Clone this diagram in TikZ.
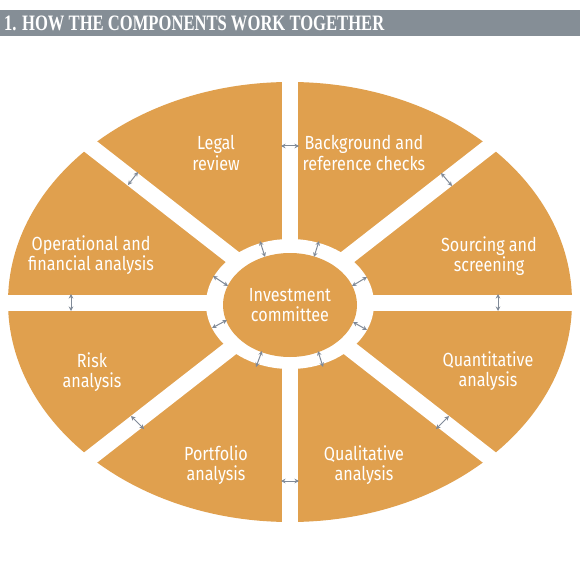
\documentclass[tikz,border=0pt]{standalone}
\usepackage{fontspec}
\setmainfont{Fira Sans}[FakeStretch=0.85]
\newfontfamily\titlefont{Liberation Serif}
\usetikzlibrary{arrows.meta}
\definecolor{segorange}{RGB}{224,160,78}
\definecolor{bargrey}{RGB}{133,142,150}
\definecolor{arrowgrey}{RGB}{128,138,152}
\begin{document}
\begin{tikzpicture}[x=1pt,y=-1pt,
 seglabel/.style={text=white, align=center, inner sep=0pt, font=\fontsize{19}{20.5}\selectfont},
 link/.style={arrowgrey, line width=1pt, {Stealth[length=4.5pt,width=4.5pt]}-{Stealth[length=4.5pt,width=4.5pt]}},
 gapline/.style={white, line width=16pt}]
\fill[white] (0,0) rectangle (580,580);
\useasboundingbox (0,0) rectangle (580,580);
% title bar
\fill[bargrey] (0,10) rectangle (580,36.5);
\node[anchor=base west, inner sep=0pt, text=white] (title) at (4,31)
  {\resizebox{380pt}{\height}{\titlefont\bfseries\fontsize{22}{22}\selectfont 1. HOW THE COMPONENTS WORK TOGETHER}};
% wheel
\fill[segorange] (290,302) ellipse [x radius=282pt, y radius=220pt];
\draw[gapline] (290,60) -- (290,545);
\draw[gapline] (-5,302.5) -- (585,302.5);
\draw[gapline] (-10,68) -- (590,536);
\draw[gapline] (-10,536) -- (590,68);
\fill[white] (290,304) ellipse [x radius=84pt, y radius=65pt];
\fill[segorange] (290,305) ellipse [x radius=67pt, y radius=52pt];
% labels
\node[seglabel] (ic) at (290,305) {Investment\\committee};
\node[seglabel] (legal) at (216,153) {Legal\\review};
\node[seglabel] (bg) at (364,153) {Background and\\reference checks};
\node[seglabel] (ops) at (91,255) {Operational and\\financial analysis};
\node[seglabel] (src) at (489,256) {Sourcing and\\screening};
\node[seglabel] (risk) at (92,372) {Risk\\analysis};
\node[seglabel] (quant) at (488,371) {Quantitative\\analysis};
\node[seglabel] (port) at (216,465) {Portfolio\\analysis};
\node[seglabel] (qual) at (364,465) {Qualitative\\analysis};
% outer arrows
\coordinate (a1) at (281,146); \coordinate (b1) at (299,146);
\coordinate (a2) at (281,481); \coordinate (b2) at (299,481);
\coordinate (a3) at (71,294); \coordinate (b3) at (71,311);
\coordinate (a4) at (498,294); \coordinate (b4) at (498,311);
\coordinate (a5) at (138,172); \coordinate (b5) at (128,185);
\coordinate (a6) at (441,173); \coordinate (b6) at (452,186);
\coordinate (a7) at (131,416); \coordinate (b7) at (144,429);
\coordinate (a8) at (449,416); \coordinate (b8) at (436,429);
% inner arrows
\coordinate (c1) at (260,241); \coordinate (d1) at (265,257);
\coordinate (c2) at (319,241); \coordinate (d2) at (314,257);
\coordinate (c3) at (213,276); \coordinate (d3) at (228,286);
\coordinate (c4) at (367,277); \coordinate (d4) at (352,286);
\coordinate (c5) at (212,328); \coordinate (d5) at (227,320);
\coordinate (c6) at (353,322); \coordinate (d6) at (367,330);
\coordinate (c7) at (262,351); \coordinate (d7) at (256,367);
\coordinate (c8) at (318,351); \coordinate (d8) at (323,367);
\foreach \i in {1,...,8} {
  \draw[link] (a\i) -- (b\i);
  \draw[link] (c\i) -- (d\i);
}
\end{tikzpicture}
\end{document}
